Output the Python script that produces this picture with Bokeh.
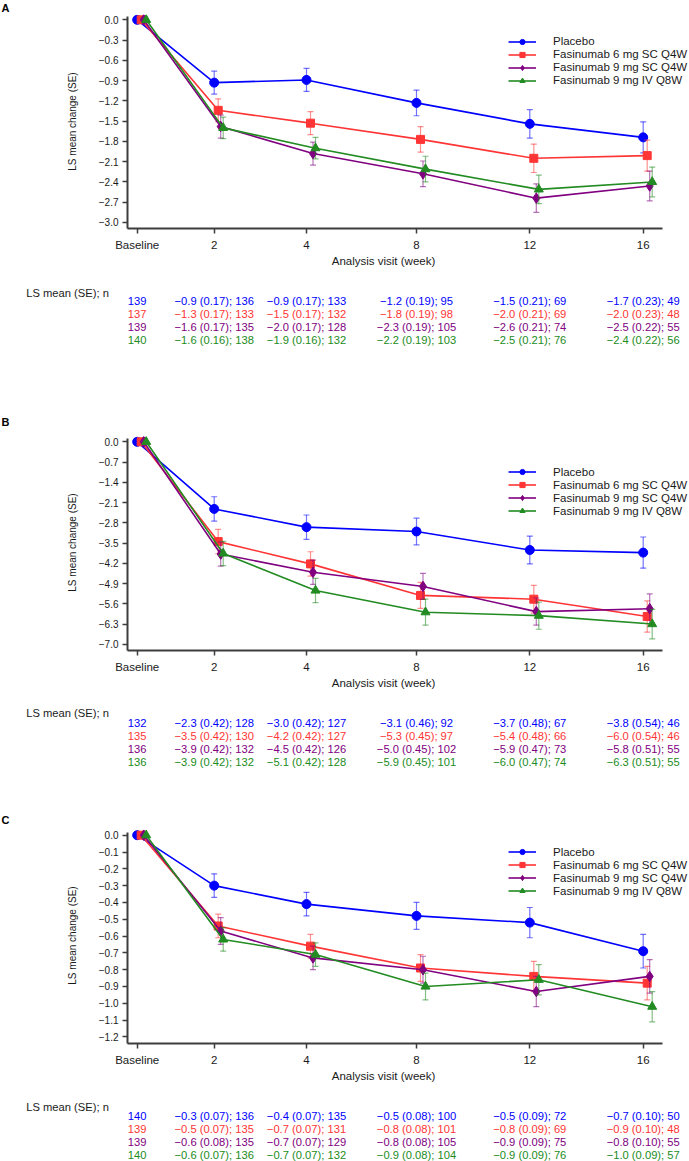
from bokeh.plotting import figure
from bokeh.models import (Range1d, FixedTicker, CustomJSTickFormatter, Legend,
                          LegendItem, ColumnDataSource)
from bokeh.layouts import column
from bokeh.embed import file_html
from bokeh.resources import INLINE
from bokeh.core.properties import value

# ---------------- data ----------------
GROUPS = ["Placebo", "Fasinumab 6 mg SC Q4W", "Fasinumab 9 mg SC Q4W", "Fasinumab 9 mg IV Q8W"]
VISITS = ["Baseline", "2", "4", "8", "12", "16"]

# Panel A: plotted LS mean change, SE, reported LS mean, n
A_MEAN = [
    [0.0, -0.93, -0.89, -1.23, -1.54, -1.74],
    [0.0, -1.34, -1.53, -1.77, -2.05, -2.01],
    [0.0, -1.58, -1.98, -2.28, -2.64, -2.46],
    [0.0, -1.60, -1.90, -2.21, -2.51, -2.40],
]
A_SE = [
    [0.17, 0.17, 0.19, 0.21, 0.23],
    [0.17, 0.17, 0.19, 0.21, 0.23],
    [0.17, 0.17, 0.19, 0.21, 0.22],
    [0.16, 0.16, 0.19, 0.21, 0.22],
]
A_TAB = [
    [-0.9, -0.9, -1.2, -1.5, -1.7],
    [-1.3, -1.5, -1.8, -2.0, -2.0],
    [-1.6, -2.0, -2.3, -2.6, -2.5],
    [-1.6, -1.9, -2.2, -2.5, -2.4],
]
A_N = [
    [139, 136, 133, 95, 69, 49],
    [137, 133, 132, 98, 69, 48],
    [139, 135, 128, 105, 74, 55],
    [140, 138, 132, 103, 76, 56],
]

# Panel B
B_MEAN = [
    [0.0, -2.32, -2.95, -3.10, -3.74, -3.83],
    [0.0, -3.45, -4.22, -5.31, -5.44, -6.04],
    [0.0, -3.88, -4.51, -5.00, -5.87, -5.77],
    [0.0, -3.86, -5.14, -5.89, -6.01, -6.30],
]
B_SE = [
    [0.42, 0.42, 0.46, 0.48, 0.54],
    [0.42, 0.42, 0.45, 0.48, 0.54],
    [0.42, 0.42, 0.45, 0.47, 0.51],
    [0.42, 0.42, 0.45, 0.47, 0.51],
]
B_TAB = [
    [-2.3, -3.0, -3.1, -3.7, -3.8],
    [-3.5, -4.2, -5.3, -5.4, -6.0],
    [-3.9, -4.5, -5.0, -5.9, -5.8],
    [-3.9, -5.1, -5.9, -6.0, -6.3],
]
B_N = [
    [132, 128, 127, 92, 67, 46],
    [135, 130, 127, 97, 66, 46],
    [136, 132, 126, 102, 73, 55],
    [136, 132, 128, 101, 74, 55],
]

# Panel C
C_MEAN = [
    [0.0, -0.30, -0.41, -0.48, -0.52, -0.69],
    [0.0, -0.54, -0.66, -0.79, -0.84, -0.88],
    [0.0, -0.57, -0.73, -0.80, -0.93, -0.84],
    [0.0, -0.62, -0.71, -0.90, -0.86, -1.02],
]
C_SE = [
    [0.07, 0.07, 0.08, 0.09, 0.10],
    [0.07, 0.07, 0.08, 0.09, 0.10],
    [0.08, 0.07, 0.08, 0.09, 0.10],
    [0.07, 0.07, 0.08, 0.09, 0.09],
]
C_TAB = [
    [-0.3, -0.4, -0.5, -0.5, -0.7],
    [-0.5, -0.7, -0.8, -0.8, -0.9],
    [-0.6, -0.7, -0.8, -0.9, -0.8],
    [-0.6, -0.7, -0.9, -0.9, -1.0],
]
C_N = [
    [140, 136, 135, 100, 72, 50],
    [139, 135, 131, 101, 69, 48],
    [139, 135, 129, 105, 75, 55],
    [140, 136, 132, 104, 76, 57],
]

X_TITLE = "Analysis visit (week)"
Y_TITLE = "LS mean change (SE)"
TABLE_HEADER = "LS mean (SE); n"

# ---------------- style / layout ----------------
FONT = "Liberation Sans"
COLORS = ["#0000FF", "#FF3535", "#800080", "#228B22"]
MARKERS = ["circle", "square", "diamond", "triangle"]
MSIZE = [9, 8, 10.5, 9]
DODGE = [0.0, 4.0, 6.5, 9.0]                    # horizontal offset of each group (px)
XPOS = [0.0, 77.0, 169.3, 279.3, 392.6, 506.0]  # axis position of each visit (px)
AXIS_COLOR = "#3d3d3d"
TEXT_COLOR = "#1a1a1a"

W = 689
BORDER_L, BORDER_B = 127, 25
X_ORIGIN = 136.7                     # screen x of the baseline tick
X_LEFT = BORDER_L - X_ORIGIN         # data x at frame left
X_RIGHT = X_LEFT + (W - BORDER_L)
X_AXIS_END = 662 - X_ORIGIN
X_TITLE_CENTER = 383 - X_ORIGIN
TAB_X0 = -X_ORIGIN
MINUS = "\u2212"


def fmt(v):
    return (MINUS if v < 0 else "") + f"{abs(v):.1f}"


def base_fig(h, xr, yr, **kw):
    p = figure(width=W, height=h, x_range=xr, y_range=yr, output_backend="svg",
               toolbar_location=None, frame_align=False, **kw)
    p.outline_line_color = None
    p.grid.visible = False
    p.background_fill_color = "white"
    p.border_fill_color = "white"
    return p


def letter_text(p, x, y, letter):
    p.text(x=[x], y=[y], text=[letter], text_font=value(FONT), text_font_style="bold",
           text_font_size="11px", text_baseline="middle", text_align="left",
           text_color="black")


def chart(mean, se, step, nsteps, ppu, frame_h, zero_off, legend_y):
    y_end = zero_off / ppu
    y_start = y_end - frame_h / ppu
    p = base_fig(frame_h + BORDER_B, Range1d(X_LEFT, X_RIGHT), Range1d(y_start, y_end),
                 min_border_left=BORDER_L, min_border_right=0,
                 min_border_top=0, min_border_bottom=BORDER_B)

    items = []
    for g in range(4):
        c = COLORS[g]
        xs = [XPOS[j] + DODGE[g] for j in range(len(VISITS))]
        src = ColumnDataSource(dict(x=xs, y=mean[g]))
        lr = p.line("x", "y", source=src, line_color=c, line_width=1.6)
        ex = xs[1:]
        lo = [m - s for m, s in zip(mean[g][1:], se[g])]
        hi = [m + s for m, s in zip(mean[g][1:], se[g])]
        p.segment(x0=ex, y0=lo, x1=ex, y1=hi, line_color=c, line_alpha=0.55, line_width=1.2)
        p.scatter(x=ex + ex, y=lo + hi, marker="dash", size=6, line_color=c,
                  line_alpha=0.55, line_width=1.2)
        sr = p.scatter("x", "y", source=src, marker=MARKERS[g], size=MSIZE[g],
                       fill_color=c, line_color=c)
        items.append(LegendItem(label=GROUPS[g], renderers=[lr, sr]))

    leg = Legend(items=items, location=(381, legend_y), orientation="vertical",
                 glyph_width=28, glyph_height=13, label_height=13, spacing=0,
                 padding=0, margin=0, label_standoff=17,
                 label_text_font=FONT, label_text_font_size="11.5px",
                 label_text_color=TEXT_COLOR, border_line_color=None,
                 background_fill_alpha=0)
    p.add_layout(leg)

    for ax in (p.xaxis[0], p.yaxis[0]):
        ax.axis_line_color = AXIS_COLOR
        ax.axis_line_width = 2
        ax.major_tick_line_color = AXIS_COLOR
        ax.major_tick_line_width = 1.5
        ax.major_tick_out = 5
        ax.major_tick_in = 0
        ax.minor_tick_line_color = None
        ax.major_label_text_font = FONT
        ax.major_label_text_color = TEXT_COLOR
        ax.axis_label_text_font = FONT
        ax.axis_label_text_font_style = "normal"
        ax.axis_label_text_color = TEXT_COLOR

    xa = p.xaxis[0]
    xa.ticker = FixedTicker(ticks=XPOS)
    xa.formatter = CustomJSTickFormatter(
        args=dict(pos=XPOS, labs=VISITS),
        code="const i = pos.findIndex(v => Math.abs(v - tick) < 1e-6); return i >= 0 ? labs[i] : '';")
    xa.bounds = (X_LEFT, X_AXIS_END)
    xa.major_label_text_font_size = "11.5px"
    xa.major_label_standoff = 5

    ya = p.yaxis[0]
    ya.ticker = FixedTicker(ticks=[-round(k * step, 1) for k in range(nsteps + 1)])
    ya.formatter = CustomJSTickFormatter(
        code="return Math.abs(tick) < 1e-9 ? '0.0' : '\u2212' + Math.abs(tick).toFixed(1);")
    ya.major_label_text_font_size = "10px"
    ya.major_label_standoff = 4
    ya.bounds = (y_start, 3.0 / ppu)
    ya.axis_label = Y_TITLE
    ya.axis_label_text_font_size = "10px"
    ya.axis_label_standoff = 18
    return p


def table(tab, se, n, h, title_rel, hdr_rel, r0, dy, letter=None, letter_rel=None):
    p = base_fig(h, Range1d(TAB_X0, TAB_X0 + W), Range1d((h - r0) / dy, -r0 / dy),
                 x_axis_location=None, y_axis_location=None, min_border=0)
    # x-axis title of the chart above (sits right under its tick labels)
    p.text(x=[X_TITLE_CENTER], y=[(title_rel - r0) / dy], text=[X_TITLE],
           text_align="center", text_baseline="middle", text_font=value(FONT),
           text_font_size="11.5px", text_color=TEXT_COLOR)
    xs, ys, ts, cs = [], [], [], []
    for g in range(4):
        for j in range(len(VISITS)):
            if j == 0:
                t = str(n[g][0])
            else:
                t = f"{fmt(tab[g][j - 1])} ({se[g][j - 1]:.2f}); {n[g][j]}"
            xs.append(XPOS[j]); ys.append(g); ts.append(t); cs.append(COLORS[g])
    src = ColumnDataSource(dict(x=xs, y=ys, t=ts, c=cs))
    p.text("x", "y", text="t", text_color="c", source=src, text_align="center",
           text_baseline="middle", text_font=value(FONT), text_font_size="11.2px")
    p.text(x=[TAB_X0 + 25.7], y=[(hdr_rel - r0) / dy], text=[TABLE_HEADER],
           text_align="left", text_baseline="middle", text_font=value(FONT),
           text_font_size="11.2px", text_color=TEXT_COLOR)
    if letter:
        letter_text(p, TAB_X0 + 1, (letter_rel - r0) / dy, letter)
    return p


strip = base_fig(14, Range1d(0, W), Range1d(14, 0),
                 x_axis_location=None, y_axis_location=None, min_border=0)
letter_text(strip, 1, 7.5, "A")

pa = chart(A_MEAN, A_SE, 0.3, 10, 67.56, 214, 5.3, 141.2)
ta = table(A_TAB, A_SE, A_N, 181, 7.7, 39.3, 47.3, 13.0, "B", 168)
pb = chart(B_MEAN, B_SE, 0.7, 10, 28.93, 216, 7.3, 132.8)
tb = table(B_TAB, B_SE, B_N, 152, 7.4, 37.7, 47.0, 13.1, "C", 144)
pc = chart(C_MEAN, C_SE, 0.1, 12, 168.1, 216, 7.7, 146.0)
tc = table(C_TAB, C_SE, C_N, 93, 7.1, 38.7, 47.0, 13.2)

layout = column(strip, pa, ta, pb, tb, pc, tc, spacing=0)
open("out.html", "w").write(file_html(layout, INLINE, title="LS mean change"))
